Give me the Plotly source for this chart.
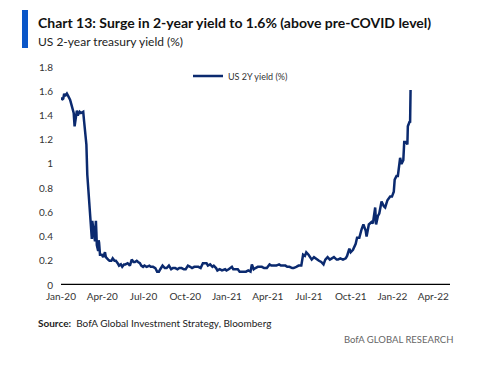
import plotly.graph_objects as go

dates_2020 = ["2020-01-02","2020-01-03","2020-01-06","2020-01-08","2020-01-10","2020-01-14","2020-01-17","2020-01-21","2020-01-24","2020-01-27","2020-01-29","2020-01-31",
"2020-02-03","2020-02-05","2020-02-07","2020-02-11","2020-02-14","2020-02-19","2020-02-21","2020-02-24","2020-02-26","2020-02-28",
"2020-03-03","2020-03-05","2020-03-06","2020-03-09","2020-03-10","2020-03-11","2020-03-12","2020-03-13","2020-03-16","2020-03-17","2020-03-18","2020-03-19","2020-03-20","2020-03-23","2020-03-24","2020-03-25","2020-03-26","2020-03-27","2020-03-31",
"2020-04-03","2020-04-07","2020-04-09","2020-04-14","2020-04-17","2020-04-21","2020-04-24","2020-04-28",
"2020-05-01","2020-05-05","2020-05-08","2020-05-12","2020-05-15","2020-05-19","2020-05-22","2020-05-27",
"2020-06-01","2020-06-05","2020-06-09","2020-06-12","2020-06-16","2020-06-19","2020-06-23","2020-06-26","2020-06-30",
"2020-07-03","2020-07-08","2020-07-14","2020-07-17","2020-07-22","2020-07-27","2020-07-31",
"2020-08-04","2020-08-07","2020-08-12","2020-08-17","2020-08-21","2020-08-26","2020-08-31",
"2020-09-04","2020-09-09","2020-09-14","2020-09-18","2020-09-23","2020-09-28",
"2020-10-02","2020-10-07","2020-10-12","2020-10-16","2020-10-21","2020-10-26","2020-10-30",
"2020-11-04","2020-11-09","2020-11-12","2020-11-17","2020-11-20","2020-11-25","2020-11-30",
"2020-12-03","2020-12-08","2020-12-11","2020-12-16","2020-12-21","2020-12-28","2020-12-31"]
yield_2020 = [1.55,1.53,1.54,1.58,1.56,1.58,1.56,1.53,1.49,1.45,1.42,1.31,
1.40,1.44,1.40,1.43,1.42,1.43,1.35,1.26,1.16,0.91,
0.71,0.59,0.51,0.38,0.53,0.50,0.48,0.49,0.36,0.47,0.53,0.44,0.33,0.28,0.37,0.35,0.30,0.25,0.25,
0.23,0.27,0.23,0.21,0.20,0.20,0.22,0.20,
0.20,0.18,0.16,0.17,0.15,0.17,0.17,0.18,
0.16,0.21,0.19,0.19,0.20,0.19,0.18,0.16,0.15,
0.16,0.15,0.16,0.15,0.15,0.14,0.11,
0.11,0.13,0.16,0.14,0.14,0.16,0.13,
0.14,0.14,0.13,0.14,0.14,0.13,
0.13,0.16,0.15,0.14,0.15,0.15,0.15,
0.14,0.18,0.18,0.18,0.16,0.17,0.15,
0.16,0.14,0.12,0.13,0.12,0.13,0.12]

dates_2021 = ["2021-01-05","2021-01-08","2021-01-12","2021-01-15","2021-01-20","2021-01-25","2021-01-29",
"2021-02-03","2021-02-08","2021-02-12","2021-02-17","2021-02-22","2021-02-25",
"2021-03-01","2021-03-05","2021-03-10","2021-03-15","2021-03-19","2021-03-24","2021-03-30",
"2021-04-05","2021-04-09","2021-04-14","2021-04-20","2021-04-26","2021-04-30",
"2021-05-05","2021-05-10","2021-05-14","2021-05-19","2021-05-25","2021-05-28",
"2021-06-03","2021-06-08","2021-06-14","2021-06-16","2021-06-17","2021-06-18","2021-06-22","2021-06-25","2021-06-30",
"2021-07-02","2021-07-07","2021-07-12","2021-07-15","2021-07-20","2021-07-23","2021-07-28",
"2021-08-02","2021-08-06","2021-08-11","2021-08-16","2021-08-20","2021-08-25","2021-08-31",
"2021-09-03","2021-09-08","2021-09-14","2021-09-20","2021-09-23","2021-09-28",
"2021-10-01","2021-10-06","2021-10-12","2021-10-15","2021-10-20","2021-10-25","2021-10-29",
"2021-11-03","2021-11-05","2021-11-10","2021-11-16","2021-11-19","2021-11-24","2021-11-26","2021-11-30",
"2021-12-03","2021-12-08","2021-12-13","2021-12-16","2021-12-21","2021-12-27","2021-12-31"]
yield_2021 = [0.13,0.14,0.15,0.13,0.13,0.13,0.11,
0.11,0.11,0.11,0.12,0.11,0.17,
0.13,0.14,0.15,0.15,0.15,0.14,0.14,
0.17,0.16,0.16,0.16,0.17,0.16,
0.16,0.16,0.15,0.15,0.14,0.14,
0.15,0.16,0.16,0.20,0.21,0.25,0.24,0.27,0.25,
0.24,0.21,0.23,0.22,0.21,0.20,0.19,
0.17,0.21,0.23,0.21,0.22,0.23,0.21,
0.21,0.22,0.21,0.22,0.24,0.30,
0.27,0.29,0.34,0.39,0.39,0.46,0.50,
0.45,0.40,0.50,0.52,0.51,0.64,0.50,0.57,
0.59,0.69,0.65,0.64,0.70,0.73,0.73]

dates_2022 = ["2022-01-04","2022-01-06","2022-01-10","2022-01-13","2022-01-18","2022-01-21","2022-01-25","2022-01-27","2022-01-31",
"2022-02-03","2022-02-04","2022-02-08","2022-02-09","2022-02-10"]
yield_2022 = [0.77,0.87,0.90,0.90,1.05,1.00,1.03,1.18,1.18,
1.16,1.31,1.35,1.34,1.61]

tick_dates = ["2020-01-01","2020-04-01","2020-07-01","2020-10-01","2021-01-01","2021-04-01",
              "2021-07-01","2021-10-01","2022-01-01","2022-04-01"]
tick_labels = ["Jan-20","Apr-20","Jul-20","Oct-20","Jan-21","Apr-21","Jul-21","Oct-21","Jan-22","Apr-22"]
y_ticks = [0, 0.2, 0.4, 0.6, 0.8, 1, 1.2, 1.4, 1.6, 1.8]
y_tick_labels = ["0","0.2","0.4","0.6","0.8","1","1.2","1.4","1.6","1.8"]

dates = dates_2020 + dates_2021 + dates_2022
values = yield_2020 + yield_2021 + yield_2022

FONT = "Lato, Liberation Sans, sans-serif"
L, R, T, B = 61, 450, 67, 285
W, H = R - L, B - T

def px(x):
    return (x - L) / W

def py(y):
    return (B - y) / H

fig = go.Figure()
fig.add_trace(go.Scatter(x=dates, y=values, mode="lines", name="US 2Y yield (%)",
                         line=dict(color="#0b2a6f", width=2.5)))

fig.update_layout(
    width=487, height=378,
    margin=dict(l=L, r=487 - R, t=T, b=378 - B, autoexpand=False),
    paper_bgcolor="white", plot_bgcolor="white",
    font=dict(family=FONT, size=10, color="#333333"),
    showlegend=True,
    legend=dict(x=px(188), y=py(76), xanchor="left", yanchor="middle", bgcolor="rgba(0,0,0,0)",
                font=dict(size=9, color="#333333"), itemwidth=30),
    xaxis=dict(type="date", range=["2020-01-01", "2022-05-08"], tickvals=tick_dates, ticktext=tick_labels,
               showgrid=False, zeroline=False, showline=False, ticks="", tickfont=dict(size=10),
               ticklabelstandoff=4, automargin=False),
    yaxis=dict(range=[0, 1.8], tickvals=y_ticks, ticktext=y_tick_labels,
               showgrid=False, zeroline=False, showline=False, ticks="", ticklabelstandoff=7,
               tickfont=dict(size=10), automargin=False),
    shapes=[dict(type="line", xref="paper", yref="y", x0=0, x1=1, y0=0, y1=0,
                 line=dict(color="black", width=2.5)),
            dict(type="rect", xref="paper", yref="paper",
                 x0=px(22), x1=px(28), y0=py(48), y1=py(10),
                 fillcolor="#0a56c8", line=dict(width=0))],
    annotations=[
        dict(text="<b>Chart 13: Surge in 2-year yield to 1.6% (above pre-COVID level)</b>",
             xref="paper", yref="paper", x=px(36), y=py(22), xanchor="left", yanchor="middle",
             showarrow=False, font=dict(family=FONT, size=14, color="#111111")),
        dict(text="US 2-year treasury yield (%)",
             xref="paper", yref="paper", x=px(36), y=py(41), xanchor="left", yanchor="middle",
             showarrow=False, font=dict(family=FONT, size=12, color="#222222")),
        dict(text="<b>Source:</b>  BofA Global Investment Strategy, Bloomberg",
             xref="paper", yref="paper", x=px(36), y=py(323), xanchor="left", yanchor="middle",
             showarrow=False, font=dict(family=FONT, size=10, color="#222222")),
        dict(text="BofA GLOBAL RESEARCH",
             xref="paper", yref="paper", x=px(455), y=py(339), xanchor="right", yanchor="middle",
             showarrow=False, font=dict(family=FONT, size=9.5, color="#666666")),
    ],
)

fig.write_html("out.html", config={"displayModeBar": False},
               post_script="document.body.style.margin='0';")
